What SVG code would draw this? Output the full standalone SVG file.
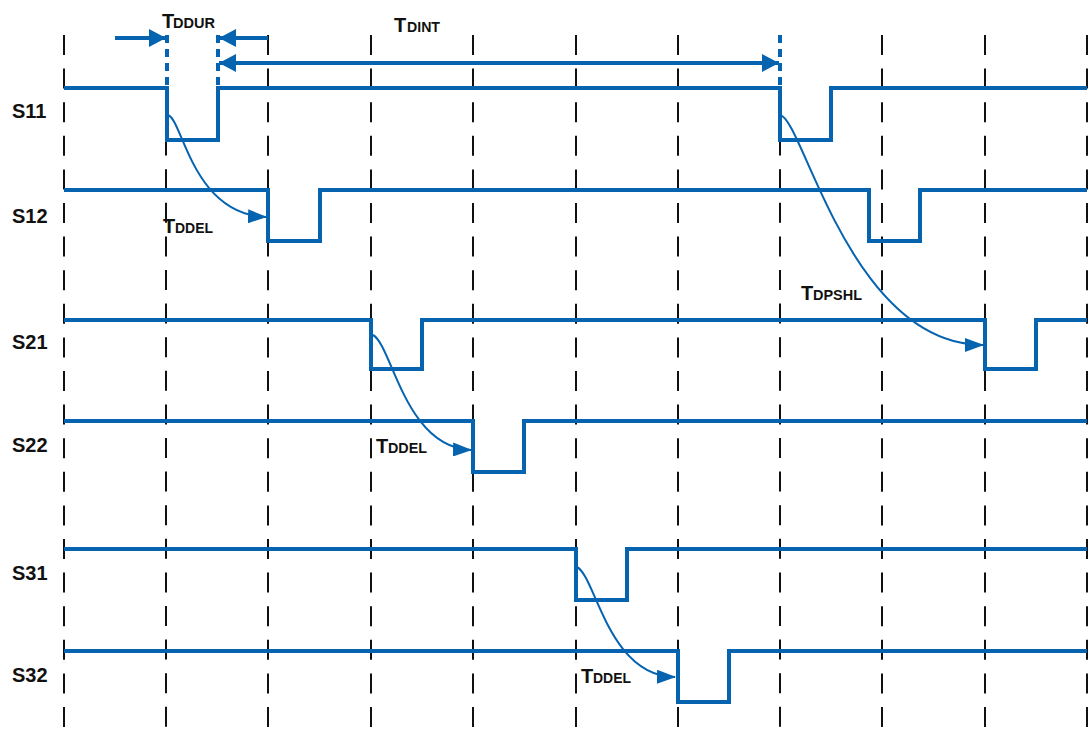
<svg xmlns="http://www.w3.org/2000/svg" width="1090" height="731" viewBox="0 0 1090 731">
<style>
.grid{stroke:#111;stroke-width:2;stroke-dasharray:20 13.6;fill:none}
.sig{stroke:#0563b0;stroke-width:4;fill:none;stroke-linejoin:miter;stroke-linecap:butt}
.bd{stroke:#0563b0;stroke-width:4;stroke-dasharray:8 6;fill:none}
.arr{stroke:#0563b0;stroke-width:4;fill:none}
.crv{stroke:#0563b0;stroke-width:2;fill:none}
.lbl{font-family:"Liberation Sans",Arial,sans-serif;font-weight:bold;font-size:20px;fill:#111}
.sub{font-family:"Liberation Sans",Arial,sans-serif;font-weight:bold;font-size:14px;fill:#111}
</style>
<defs>
<marker id="ah" markerWidth="19" markerHeight="14" refX="18" refY="7" orient="auto" markerUnits="userSpaceOnUse"><path d="M0,0 L19,7 L0,14 z" fill="#0563b0"/></marker>
<marker id="ahb" markerWidth="17" markerHeight="18" refX="17" refY="9" orient="auto-start-reverse" markerUnits="userSpaceOnUse"><path d="M0,0 L17,9 L0,18 z" fill="#0563b0"/></marker>
</defs>
<rect width="1090" height="731" fill="#fff"/>
<g id="grid">
<line class="grid" x1="64" y1="35" x2="64" y2="731"/>
<line class="grid" x1="166" y1="102" x2="166" y2="731"/>
<line class="grid" x1="268" y1="35" x2="268" y2="731"/>
<line class="grid" x1="371" y1="35" x2="371" y2="731"/>
<line class="grid" x1="473" y1="35" x2="473" y2="731"/>
<line class="grid" x1="576" y1="35" x2="576" y2="731"/>
<line class="grid" x1="678" y1="35" x2="678" y2="731"/>
<line class="grid" x1="780" y1="102" x2="780" y2="731"/>
<line class="grid" x1="882" y1="35" x2="882" y2="731"/>
<line class="grid" x1="985" y1="35" x2="985" y2="731"/>
<line class="grid" x1="1087" y1="35" x2="1087" y2="731"/>
</g>
<g id="S11">
<text class="lbl" x="12" y="118">S11</text>
<polyline class="sig" points="64,88 167,88 167,140 218,140 218,88 780,88 780,140 831,140 831,88 1087,88"/>
</g>
<g id="S12">
<text class="lbl" x="12" y="223">S12</text>
<polyline class="sig" points="64,190 268,190 268,241 320,241 320,190 869,190 869,241 920,241 920,190 1087,190"/>
</g>
<g id="S21">
<text class="lbl" x="12" y="349">S21</text>
<polyline class="sig" points="64,320 371,320 371,369 422,369 422,320 985,320 985,369 1036,369 1036,320 1087,320"/>
</g>
<g id="S22">
<text class="lbl" x="12" y="452">S22</text>
<polyline class="sig" points="64,421 473,421 473,472 524,472 524,421 1087,421"/>
</g>
<g id="S31">
<text class="lbl" x="12" y="580">S31</text>
<polyline class="sig" points="64,549 576,549 576,600 627,600 627,549 1087,549"/>
</g>
<g id="S32">
<text class="lbl" x="12" y="682">S32</text>
<polyline class="sig" points="64,651 678,651 678,702 729,702 729,651 1087,651"/>
</g>
<g id="connectors">
<line class="bd" x1="167" y1="35" x2="167" y2="88"/>
<line class="bd" x1="218" y1="35" x2="218" y2="88"/>
<line class="bd" x1="780" y1="35" x2="780" y2="88"/>
<line class="arr" x1="115" y1="38" x2="166" y2="38" marker-end="url(#ahb)"/>
<line class="arr" x1="268" y1="38" x2="219" y2="38" marker-end="url(#ahb)"/>
<line class="arr" x1="219" y1="63" x2="779" y2="63" marker-start="url(#ahb)" marker-end="url(#ahb)"/>
<path class="crv" d="M168,115 C183,120 192,214 266,217" marker-end="url(#ah)"/>
<path class="crv" d="M373,335 C392,345 405,448 471,450" marker-end="url(#ah)"/>
<path class="crv" d="M577,567 C596,577 608,676 675,677" marker-end="url(#ah)"/>
<path class="crv" d="M780,115 C803,118 850,345 983,345" marker-end="url(#ah)"/>
</g>
<g id="labels">
<text class="lbl" x="162" y="28">T</text><text class="sub" x="173" y="28" textLength="42" lengthAdjust="spacingAndGlyphs">DDUR</text>
<text class="lbl" x="394" y="32">T</text><text class="sub" x="407" y="32" textLength="33" lengthAdjust="spacingAndGlyphs">DINT</text>
<text class="lbl" x="163" y="233">T</text><text class="sub" x="175" y="233" textLength="38" lengthAdjust="spacingAndGlyphs">DDEL</text>
<text class="lbl" x="376" y="453">T</text><text class="sub" x="388" y="453" textLength="39" lengthAdjust="spacingAndGlyphs">DDEL</text>
<text class="lbl" x="801" y="300">T</text><text class="sub" x="813" y="300" textLength="49" lengthAdjust="spacingAndGlyphs">DPSHL</text>
<text class="lbl" x="581" y="683">T</text><text class="sub" x="593" y="683" textLength="38" lengthAdjust="spacingAndGlyphs">DDEL</text>
</g>
</svg>
